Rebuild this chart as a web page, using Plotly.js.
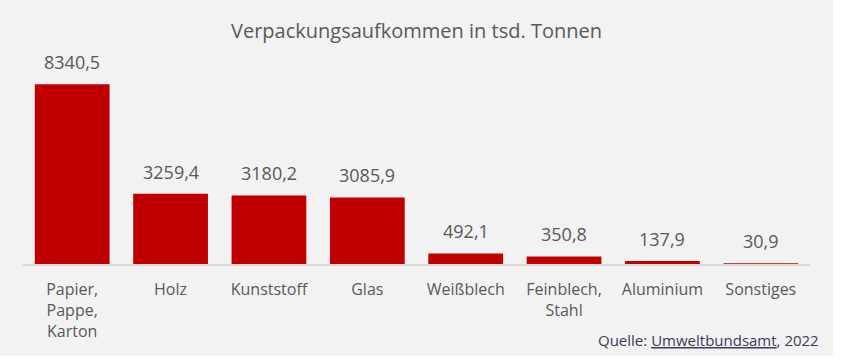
<!DOCTYPE html>
<html>
<head>
<meta charset="utf-8">
<script src="https://cdn.plot.ly/plotly-3.0.1.min.js"></script>
<style>
html,body{margin:0;padding:0;background:#ffffff;}
#chart{width:833px;height:356px;}
</style>
</head>
<body>
<div id="chart"></div>
<script>
const categories = ["Papier,<br>Pappe,<br>Karton", "Holz", "Kunststoff", "Glas", "Weißblech", "Feinblech,<br>Stahl", "Aluminium", "Sonstiges"];
const values = [8340.5, 3259.4, 3180.2, 3085.9, 492.1, 350.8, 137.9, 30.9];
const valueLabels = ["8340,5", "3259,4", "3180,2", "3085,9", "492,1", "350,8", "137,9", "30,9"];
const chartTitle = "Verpackungsaufkommen in tsd. Tonnen";
const sourceText = "Quelle: <u>Umweltbundsamt</u>, 2022";

const FONT = "Open Sans, sans-serif";
const TXT = "#595959";

const trace = {
  type: "bar",
  x: categories,
  y: values,
  marker: {color: "#c00000"},
  width: 0.76,
  hoverinfo: "none"
};

const annotations = categories.map((c, i) => ({
  x: c, y: values[i], xref: "x", yref: "y",
  text: valueLabels[i], showarrow: false,
  yanchor: "bottom", yshift: 8,
  font: {family: FONT, size: 18, color: TXT}
}));
annotations.push({
  xref: "paper", yref: "paper", x: 1.014, y: -0.392,
  xanchor: "right", yanchor: "middle",
  text: sourceText, showarrow: false,
  font: {family: FONT, size: 15, color: "#3b3b58"}
});

const layout = {
  width: 833, height: 356,
  paper_bgcolor: "#f2f2f2",
  plot_bgcolor: "#f2f2f2",
  margin: {l: 23, r: 23, t: 70, b: 92},
  title: {text: chartTitle, x: 0.5, xanchor: "center", y: 0.912, yanchor: "middle",
          font: {family: FONT, size: 20, color: TXT}},
  xaxis: {
    showline: true, linecolor: "#d9d9d9", linewidth: 2, layer: "above traces",
    ticks: "", ticklabelstandoff: 10,
    tickfont: {family: FONT, size: 16, color: TXT},
    fixedrange: true
  },
  yaxis: {
    range: [0, 9000], visible: false, showgrid: false, zeroline: false, fixedrange: true
  },
  bargap: 0.24,
  showlegend: false,
  annotations: annotations
};

Plotly.newPlot("chart", [trace], layout, {displayModeBar: false, staticPlot: true});
</script>
</body>
</html>
